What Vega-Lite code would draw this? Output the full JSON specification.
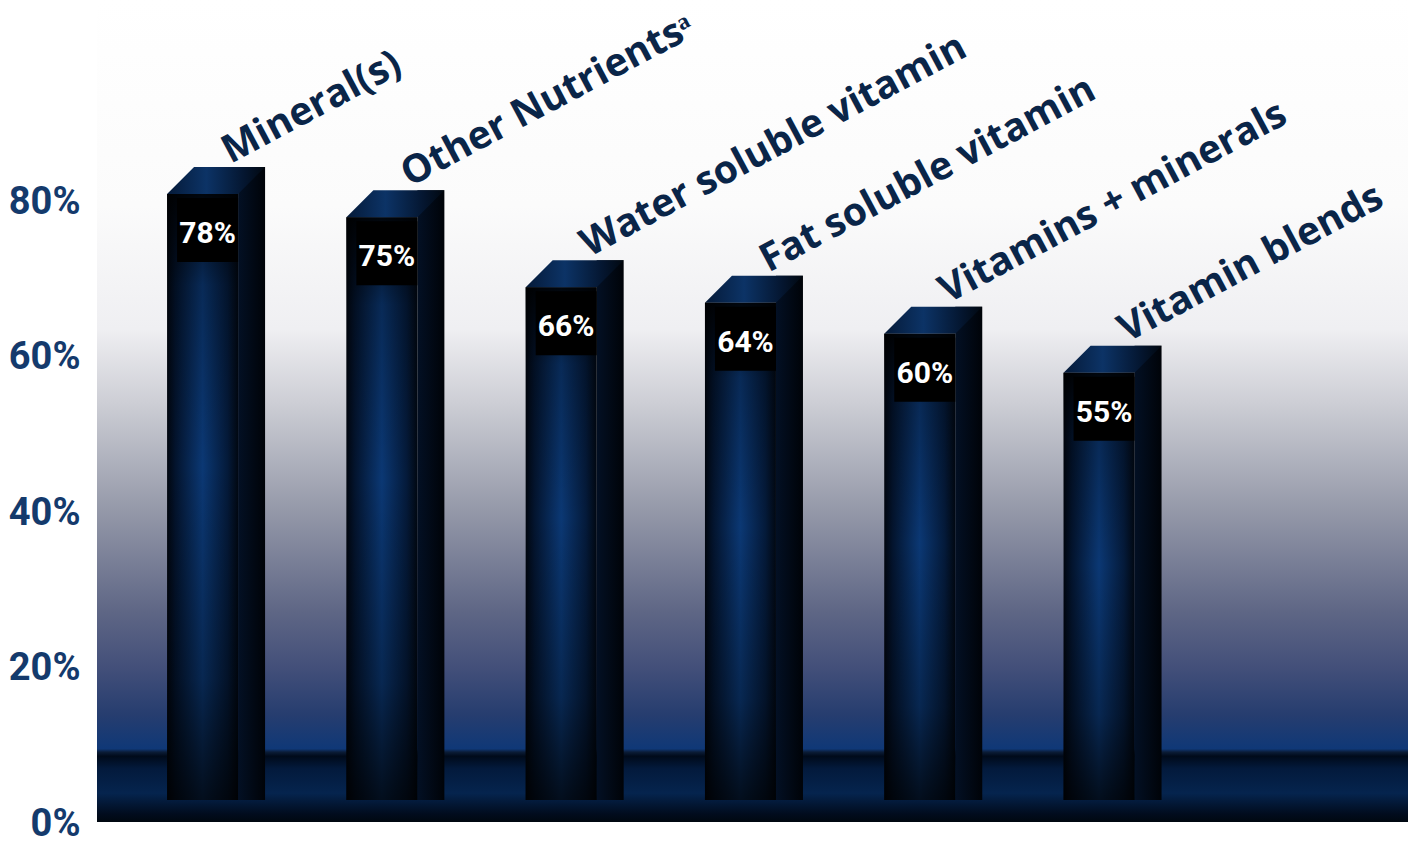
{
  "$schema": "https://vega.github.io/schema/vega-lite/v6.json",
  "width": 1311,
  "height": 822,
  "autosize": "none",
  "padding": {"left": 97, "top": 0, "right": 8, "bottom": 23},
  "background": "white",
  "config": {"view": {"stroke": null}},
  "datasets": {
    "bars": [
      {"category": "Mineral(s)", "label": "Mineral(s)", "value": 78, "value_label": "78%"},
      {"category": "Other Nutrients", "label": "Other Nutrientsᵃ", "value": 75, "value_label": "75%"},
      {"category": "Water soluble vitamin", "label": "Water soluble vitamin", "value": 66, "value_label": "66%"},
      {"category": "Fat soluble vitamin", "label": "Fat soluble vitamin", "value": 64, "value_label": "64%"},
      {"category": "Vitamins + minerals", "label": "Vitamins + minerals", "value": 60, "value_label": "60%"},
      {"category": "Vitamin blends", "label": "Vitamin blends", "value": 55, "value_label": "55%"}
    ]
  },
  "layer": [
    {
      "data": {"values": [{}]},
      "mark": {
        "type": "rect",
        "color": {
          "gradient": "linear", "x1": 0, "y1": 0, "x2": 0, "y2": 1,
          "stops": [
            {"offset": 0, "color": "#ffffff"},
            {"offset": 0.25, "color": "#fbfbfb"},
            {"offset": 0.40, "color": "#efeff2"},
            {"offset": 0.49, "color": "#cdced5"},
            {"offset": 0.62, "color": "#9599a9"},
            {"offset": 0.745, "color": "#5e6685"},
            {"offset": 0.81, "color": "#44507a"},
            {"offset": 0.87, "color": "#263d6f"},
            {"offset": 0.911, "color": "#0f3877"},
            {"offset": 0.915, "color": "#0b1c36"},
            {"offset": 0.92, "color": "#000a1a"},
            {"offset": 0.935, "color": "#031a3c"},
            {"offset": 0.965, "color": "#05244e"},
            {"offset": 0.99, "color": "#010c1e"},
            {"offset": 1, "color": "#000810"}
          ]
        }
      },
      "encoding": {}
    },
    {
      "data": {"name": "bars"},
      "encoding": {
        "x": {
          "field": "category", "type": "nominal", "sort": null,
          "scale": {"paddingInner": 0.604, "paddingOuter": 0.958, "align": 0.204},
          "axis": null
        },
        "y": {
          "field": "value", "type": "quantitative",
          "scale": {"domain": [-2.83, 102.96], "nice": false, "zero": false},
          "axis": {
            "values": [0, 20, 40, 60, 80],
            "labelExpr": "datum.value + '%'",
            "title": null, "ticks": false, "domain": false, "grid": false,
            "labelOffset": 24, "labelPadding": 17,
            "labelFont": "Roboto", "labelFontSize": 38, "labelFontWeight": "bold", "labelColor": "#143a6c"
          }
        }
      },
      "layer": [
        {
          "mark": {
            "type": "bar", "width": 27, "xOffset": 49, "yOffset": -27, "y2Offset": 0,
            "color": {
              "gradient": "linear", "x1": 0, "y1": 0, "x2": 1, "y2": 0,
              "stops": [
                {"offset": 0, "color": "#031024"},
                {"offset": 1, "color": "#000308"}
              ]
            }
          },
          "encoding": {"y2": {"datum": 0}}
        },
        {
          "mark": {
            "type": "point", "filled": true, "opacity": 1, "strokeWidth": 0,
            "shape": "M -1 0.2755 L -0.449 -0.2755 L 1 -0.2755 L 0.449 0.2755 Z",
            "size": 9604, "xOffset": 13.5, "yOffset": -13.5,
            "color": {
              "gradient": "linear", "x1": 0, "y1": 0, "x2": 1, "y2": 0,
              "stops": [
                {"offset": 0, "color": "#051a38"},
                {"offset": 0.4, "color": "#0c3366"},
                {"offset": 0.8, "color": "#04152e"},
                {"offset": 1, "color": "#010810"}
              ]
            }
          }
        },
        {
          "mark": {
            "type": "bar",
            "color": {
              "gradient": "linear", "x1": 0, "y1": 0, "x2": 1, "y2": 0,
              "stops": [
                {"offset": 0, "color": "#01060f"},
                {"offset": 0.12, "color": "#03142e"},
                {"offset": 0.5, "color": "#0b3874"},
                {"offset": 0.85, "color": "#041a3a"},
                {"offset": 1, "color": "#010812"}
              ]
            }
          }
        },
        {
          "mark": {
            "type": "bar",
            "color": {
              "gradient": "linear", "x1": 0, "y1": 0, "x2": 0, "y2": 1,
              "stops": [
                {"offset": 0, "color": "rgba(0,0,0,0.9)"},
                {"offset": 0.15, "color": "rgba(0,0,0,0.25)"},
                {"offset": 0.45, "color": "rgba(0,0,0,0)"},
                {"offset": 0.8, "color": "rgba(0,0,0,0.3)"},
                {"offset": 1, "color": "rgba(0,0,0,0.75)"}
              ]
            }
          }
        },
        {
          "mark": {"type": "tick", "size": 61, "thickness": 64, "color": "#000000", "opacity": 1, "xOffset": 5, "yOffset": 36}
        },
        {
          "mark": {
            "type": "text", "color": "#ffffff", "xOffset": 5, "yOffset": 40, "baseline": "middle", "align": "center",
            "font": "Roboto", "fontSize": 30, "fontWeight": "bold"
          },
          "encoding": {"text": {"field": "value_label"}}
        },
        {
          "mark": {
            "type": "text", "color": "#0a2548", "angle": 332, "align": "left", "baseline": "alphabetic",
            "xOffset": 28, "yOffset": -30,
            "font": "Open Sans", "fontSize": 39, "fontWeight": "bold"
          },
          "encoding": {"text": {"field": "label"}}
        }
      ]
    }
  ]
}
